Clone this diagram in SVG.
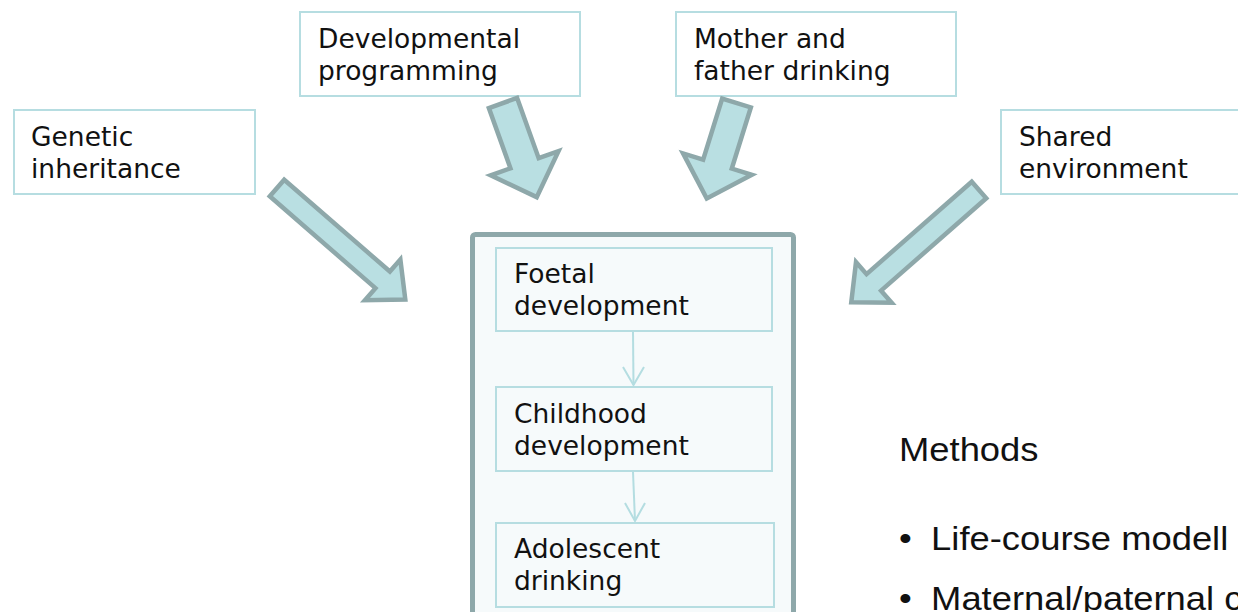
<svg xmlns="http://www.w3.org/2000/svg" xmlns:xlink="http://www.w3.org/1999/xlink" width="1238" height="612" viewBox="0 0 1238 612">
  <style>
    .box { fill: #ffffff; stroke: #b6dde1; stroke-width: 2; }
    .inner { fill: #f6fafb; stroke: #b6dde1; stroke-width: 2; }
    .frame { fill: #f6fafb; stroke: #8ea8aa; stroke-width: 5; }
    .lbl { font-family: "DejaVu Sans", Verdana, sans-serif; font-size: 26.5px; fill: #111111; }
    .big { fill: #b9dfe2; stroke: #8ea8aa; stroke-width: 4.5; stroke-linejoin: miter; }
    .flow { stroke: #b4dde1; stroke-width: 2; fill: none; }
    .side { font-family: "Liberation Sans", Arial, sans-serif; font-size: 34px; fill: #111111; }
  </style>
  <defs>
    <polygon id="arrowLong" points="0,-11 140,-11 140,-27 170,0 140,27 140,11 0,11"/>
    <polygon id="arrowShort" points="0,-15 64,-15 64,-36 100,0 64,36 64,15 0,15"/>
  </defs>

  <rect width="1238" height="612" fill="#ffffff"/>

  <!-- input factors -->
  <g id="genetic">
    <rect class="box" x="14" y="110" width="241" height="84"/>
    <text class="lbl" x="31" y="146">Genetic</text>
    <text class="lbl" x="31" y="178">inheritance</text>
  </g>
  <g id="programming">
    <rect class="box" x="300" y="12" width="280" height="84"/>
    <text class="lbl" x="318" y="48">Developmental</text>
    <text class="lbl" x="318" y="80">programming</text>
  </g>
  <g id="parents">
    <rect class="box" x="676" y="12" width="280" height="84"/>
    <text class="lbl" x="694" y="48">Mother and</text>
    <text class="lbl" x="694" y="80">father drinking</text>
  </g>
  <g id="shared">
    <rect class="box" x="1001" y="110" width="280" height="84"/>
    <text class="lbl" x="1019" y="146">Shared</text>
    <text class="lbl" x="1019" y="178">environment</text>
  </g>

  <!-- life-course column -->
  <g id="lifecourse">
    <rect class="frame" x="472.5" y="234.5" width="321" height="420" rx="3"/>
  </g>
  <g id="foetal">
    <rect class="inner" x="496" y="248" width="276" height="83"/>
    <text class="lbl" x="514" y="283">Foetal</text>
    <text class="lbl" x="514" y="315">development</text>
  </g>
  <g id="childhood">
    <rect class="inner" x="496" y="387" width="276" height="84"/>
    <text class="lbl" x="514" y="423">Childhood</text>
    <text class="lbl" x="514" y="455">development</text>
  </g>
  <g id="adolescent">
    <rect class="inner" x="496" y="523" width="278" height="84"/>
    <text class="lbl" x="514" y="558">Adolescent</text>
    <text class="lbl" x="514" y="590">drinking</text>
  </g>

  <!-- connectors -->
  <g id="connectors">
    <use xlink:href="#arrowLong" href="#arrowLong" class="big" transform="translate(277,188) rotate(41)"/>
    <use xlink:href="#arrowShort" href="#arrowShort" class="big" transform="translate(503,103) rotate(70.3)"/>
    <use xlink:href="#arrowShort" href="#arrowShort" class="big" transform="translate(736.5,103) rotate(107.3)"/>
    <use xlink:href="#arrowLong" href="#arrowLong" class="big" transform="translate(979,190) rotate(138.7)"/>
    <line class="flow" x1="633" y1="332" x2="633.5" y2="385"/>
    <path class="flow" d="M623,367 L633.5,385 L644,367"/>
    <line class="flow" x1="633" y1="472" x2="635" y2="521"/>
    <path class="flow" d="M625,503 L635,521 L645,503"/>
  </g>

  <!-- methods list -->
  <g id="methods">
    <g transform="translate(899,461) scale(1.07,1)">
      <text class="side" x="0" y="0">Methods</text>
    </g>
    <g transform="translate(899,550) scale(1.07,1)">
      <text class="side" x="0" y="0">•</text>
      <text class="side" x="30" y="0">Life-course modell</text>
    </g>
    <g transform="translate(899,610) scale(1.07,1)">
      <text class="side" x="0" y="0">•</text>
      <text class="side" x="30" y="0">Maternal/paternal c</text>
    </g>
  </g>
</svg>
